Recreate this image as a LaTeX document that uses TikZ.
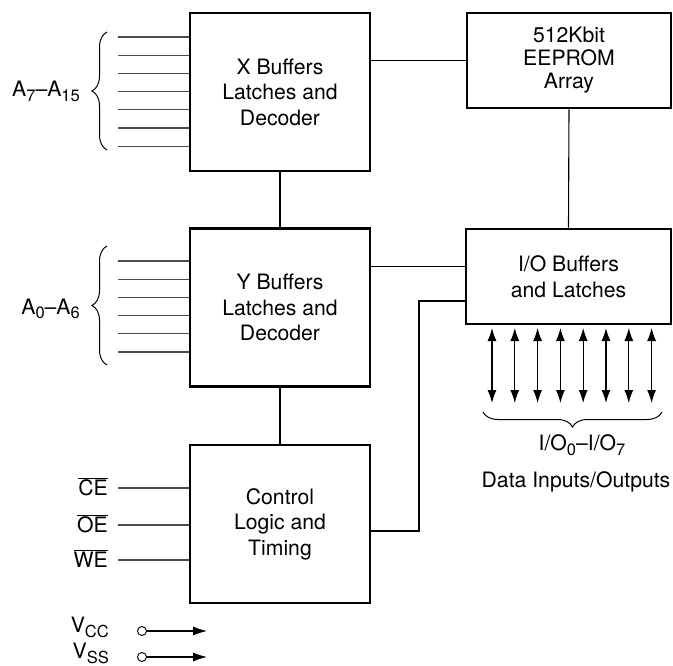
\documentclass[tikz,border=0pt]{standalone}
\usepackage{fontspec}
\setmainfont{TeX Gyre Heros}
\usetikzlibrary{arrows.meta,decorations.pathreplacing}
\newcommand{\sbs}[1]{\raisebox{-5pt}{\fontsize{16.5}{16.5}\selectfont #1}}
\begin{document}
\begin{tikzpicture}[x=1pt,y=-1pt,>={Latex[length=13pt,width=9pt]}, font=\fontsize{21.2}{25.5}\selectfont,
	blk/.style={draw, line width=2.6pt, minimum width=180pt, minimum height=158pt, align=center, inner sep=0pt},
	wire/.style={line width=1.1pt},
	pin/.style={line width=1.1pt, black!70},
	lbl/.style={inner sep=0pt},
	brc/.style={decorate, decoration={brace, amplitude=15pt}, line width=1pt}]
	\useasboundingbox (0,0) rectangle (673,666);
	% blocks
	\node[blk] (xbuf) at (280,92) {X Buffers\\Latches and\\Decoder};
	\node[blk] (ybuf) at (280,307.5) {Y Buffers\\Latches and\\Decoder};
	\node[blk] (ctrl) at (280,524) {Control\\Logic and\\Timing};
	\node[blk, minimum width=204pt, minimum height=95pt, font=\fontsize{21.2}{23}\selectfont] (array) at (569,60.5) {512Kbit\\EEPROM\\Array};
	\node[blk, minimum width=205pt, minimum height=95pt] (io) at (568.5,276.5) {I/O Buffers\\and Latches};
	% internal connections
	\draw[wire] (array.west) -- (array.west -| xbuf.east);
	\draw[wire] (array.south) -- (io.north);
	\draw[wire] (xbuf.south) -- (ybuf.north);
	\draw[wire] (ybuf.south) -- (ctrl.north);
	\coordinate (ioa) at ([yshift=10pt]io.west);
	\coordinate (iob) at ([yshift=-24.5pt]io.west);
	\coordinate (ctout) at ([yshift=-7pt]ctrl.east);
	\coordinate (jog) at (419,0);
	\draw[wire] (ioa) -- (ioa -| ybuf.east);
	\draw[wire] (ctout) -| (jog |- iob) -- (iob);
	% address inputs
	\foreach \i in {0,...,6}{
		\coordinate (ah\i) at (118,{37+18.2*\i});
		\draw[pin] (ah\i) -- (ah\i -| xbuf.west);
	}
	\foreach \i in {0,...,5}{
		\coordinate (al\i) at (118,{261+18.2*\i});
		\draw[pin] (al\i) -- (al\i -| ybuf.west);
	}
	\draw[brc] (107,150) -- (107,32);
	\draw[brc] (107,365) -- (107,246);
	\node[lbl, anchor=base east] (ahlbl) at (80,97) {A\sbs{7}--A\sbs{15}};
	\node[lbl, anchor=base east] (allbl) at (80,314) {A\sbs{0}--A\sbs{6}};
	% control inputs
	\foreach \sig/\yy in {CE/488, OE/525, WE/560}{
		\coordinate (\sig) at (118,\yy);
		\draw[pin] (\sig) -- (\sig -| ctrl.west);
		\node[lbl, anchor=base east] (\sig lbl) at (108,\yy+7.5) {$\overline{\mbox{\sig}}$};
	}
	% supply pins
	\foreach \pw/\sub/\yy in {vcc/CC/631, vss/SS/657}{
		\node[circle, draw, line width=0.9pt, inner sep=0pt, minimum size=9pt] (\pw) at (142,\yy) {};
		\coordinate (\pw end) at (207,\yy);
		\draw[wire,-{Latex[length=14pt,width=9pt]}] (\pw) -- (\pw end);
		\node[lbl, anchor=base east] (\pw lbl) at (109,\yy+1) {V\sbs{\sub}};
	}
	% data lines
	\foreach \i in {0,...,7}{
		\coordinate (dt\i) at ({492+22.8*\i},328);
		\coordinate (db\i) at ({492+22.8*\i},403);
		\draw[wire,<->] (dt\i) -- (db\i);
	}
	\draw[brc] (662,412) -- (483,412);
	\node[lbl, anchor=base] (iolbl) at (582,450) {I/O\sbs{0}--I/O\sbs{7}};
	\node[lbl, anchor=base] (datalbl) at (576,487) {Data Inputs/Outputs};
\end{tikzpicture}
\end{document}
